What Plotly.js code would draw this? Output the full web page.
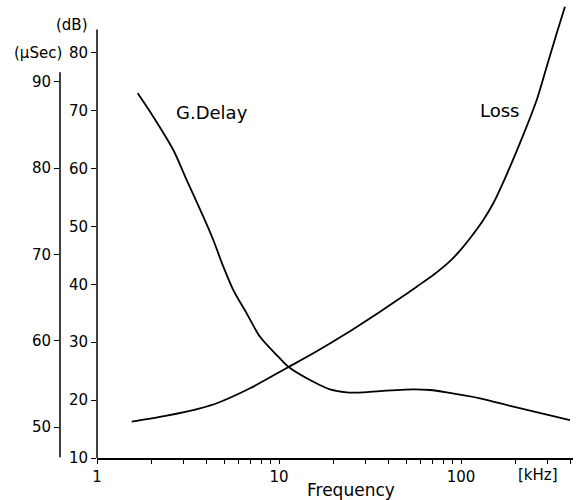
<!DOCTYPE html>
<html>
<head>
<meta charset="utf-8">
<script src="https://cdn.plot.ly/plotly-3.0.1.min.js"></script>
<style>html,body{margin:0;padding:0;background:#fff;}#chart{width:576px;height:500px;}</style>
</head>
<body>
<div id="chart"></div>
<script>
// Group delay (μSec) vs frequency (kHz)
const delayFreq = [1.674, 2.038, 2.626, 3.111, 3.838, 4.355, 4.943, 5.61, 6.645, 7.865, 9.91, 11.25, 15.44, 19.06, 23.55, 29.05, 35.89, 54.7, 67.55, 83.44, 127.2, 193.8, 397];
const delayUs   = [88.67, 85.96, 82.10, 78.62, 74.37, 71.67, 68.58, 65.87, 63.17, 60.46, 58.15, 56.99, 55.25, 54.37, 54.02, 54.02, 54.17, 54.37, 54.29, 54.02, 53.33, 52.35, 50.81];
// Loss (dB) vs frequency (kHz)
const lossFreq = [1.551, 2.415, 3.681, 4.548, 6.929, 11.35, 15.43, 23.54, 35.9, 46.2, 57.1, 70.4, 87.0, 98.7, 112.1, 132.6, 150.5, 174.5, 219.9, 260.6, 295.6, 335.6, 372.5];
const lossDb   = [16.27, 17.31, 18.58, 19.45, 22.04, 25.77, 28.08, 31.54, 35.27, 37.58, 39.59, 41.6, 44.0, 45.8, 47.94, 51.11, 53.99, 58.3, 65.8, 71.83, 77.58, 83.35, 87.95];

const dbTicks = [10, 20, 30, 40, 50, 60, 70, 80];
const usTicks = [50, 60, 70, 80, 90];
const freqTickVals = [1,2,3,4,5,6,7,8,9,10,20,30,40,50,60,70,80,90,100,200,300,400];
const freqTickText = freqTickVals.map(v => (v === 1 || v === 10 || v === 100) ? String(v) : '');

const FONT = 'DejaVu Sans, sans-serif';
const W = 513, ML = 60;
const xd0 = 37 / W;
const XMAX = 2.6154;
const pxPerDecade = (1 - xd0) * W / XMAX;
const x2min = -xd0 * W / pxPerDecade;

const traces = [
  {x: delayFreq, y: delayUs, xaxis: 'x2', yaxis: 'y2', mode: 'lines', line: {color: '#000', width: 1.8, shape: 'spline', smoothing: 0.8}, hoverinfo: 'skip'},
  {x: lossFreq, y: lossDb, xaxis: 'x', yaxis: 'y', mode: 'lines', line: {color: '#000', width: 1.8, shape: 'spline', smoothing: 0.8}, hoverinfo: 'skip'}
];

const layout = {
  width: 576, height: 500,
  margin: {l: ML, r: 3, t: 0, b: 42},
  paper_bgcolor: '#fff', plot_bgcolor: 'rgba(0,0,0,0)',
  showlegend: false,
  font: {family: FONT, color: '#000', size: 15},
  xaxis: {
    type: 'log', domain: [xd0, 1], range: [0, XMAX], anchor: 'y',
    tickvals: freqTickVals, ticktext: freqTickText,
    ticks: 'outside', ticklen: 4, tickwidth: 1, tickcolor: '#000',
    showline: true, linecolor: '#000', linewidth: 1.5,
    showgrid: false, zeroline: false,
    tickfont: {size: 15}
  },
  xaxis2: {
    type: 'log', domain: [0, 1], range: [x2min, XMAX], anchor: 'y2',
    showticklabels: false, ticks: '', showline: false,
    showgrid: false, zeroline: false
  },
  yaxis: {
    domain: [0, 1], range: [10, 89.1], anchor: 'x', side: 'left',
    tickvals: dbTicks, ticks: 'outside', ticklen: 5, tickwidth: 1, tickcolor: '#000',
    showline: false, showgrid: false, zeroline: false, automargin: false,
    tickfont: {size: 15}
  },
  yaxis2: {
    domain: [0, 1], range: [46.41, 99.48], anchor: 'x2', side: 'left',
    tickvals: usTicks, ticks: 'outside', ticklen: 5, tickwidth: 1, tickcolor: '#000',
    showline: false, showgrid: false, zeroline: false, automargin: false,
    tickfont: {size: 15}
  },
  shapes: [
    {type: 'line', xref: 'paper', yref: 'y', x0: xd0, x1: xd0, y0: 10, y1: 84, line: {color: '#000', width: 1.5}},
    {type: 'line', xref: 'paper', yref: 'y2', x0: 0, x1: 0, y0: 46.5, y1: 91.1, line: {color: '#000', width: 1.5}}
  ],
  annotations: [
    {text: '(dB)', xref: 'paper', yref: 'paper', x: (72 - ML) / W, y: 1 - 25 / 458, showarrow: false, xanchor: 'center', yanchor: 'middle', font: {size: 15}},
    {text: '(μSec)', xref: 'paper', yref: 'paper', x: (38 - ML) / W, y: 1 - 53 / 458, showarrow: false, xanchor: 'center', yanchor: 'middle', font: {size: 15}},
    {text: 'G.Delay', xref: 'paper', yref: 'paper', x: (212 - ML) / W, y: 1 - 112 / 458, showarrow: false, xanchor: 'center', yanchor: 'middle', font: {size: 18}},
    {text: 'Loss', xref: 'paper', yref: 'paper', x: (499 - ML) / W, y: 1 - 110 / 458, showarrow: false, xanchor: 'center', yanchor: 'middle', font: {size: 18}},
    {text: '[kHz]', xref: 'paper', yref: 'paper', x: (537.5 - ML) / W, y: 1 - 475 / 458, showarrow: false, xanchor: 'center', yanchor: 'middle', font: {size: 15}},
    {text: 'Frequency', xref: 'paper', yref: 'paper', x: (351 - ML) / W, y: 1 - 490 / 458, showarrow: false, xanchor: 'center', yanchor: 'middle', font: {size: 17}}
  ]
};

Plotly.newPlot('chart', traces, layout, {staticPlot: true, displayModeBar: false});
</script>
</body>
</html>
